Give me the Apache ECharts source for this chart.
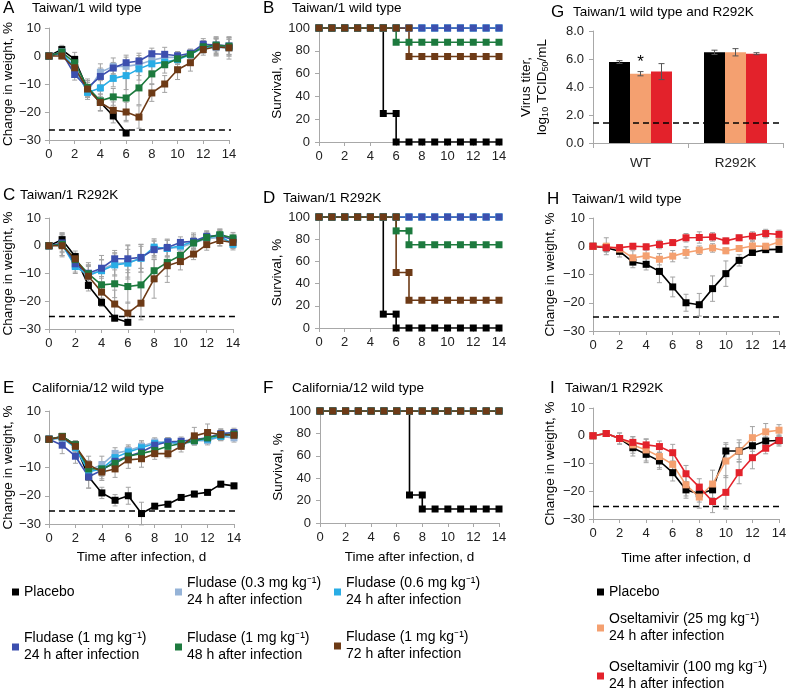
<!DOCTYPE html>
<html><head><meta charset="utf-8">
<script src="https://cdn.jsdelivr.net/npm/echarts@6/dist/echarts.min.js"></script>
<style>html,body{margin:0;padding:0;background:#fff}#c{width:790px;height:699px}</style>
</head><body><div id="c"></div><script>
// ---------------- DATA ----------------
const days = [0,1,2,3,4,5,6,7,8,9,10,11,12,13,14];

// Panel A – Taiwan/1 wild type, weight change (%)
const aPlacebo = [0, 2.3, -1.2, -11.8, -16.6, -21.4, -27.5];
const aF03  = [0, 1.5, -5.0, -12.5, -5.8, -3.7, -3.7, -3.0, -1.5, -0.5, -0.5, 0.5, 3.5, 3.0, 3.0];
const aF06  = [0, 1.0, -4.0, -13.0, -11.4, -8.0, -7.0, -4.6, -2.8, -2.2, -1.3, 0.5, 3.0, 3.5, 3.0];
const aF124 = [0, 1.2, -6.6, -11.4, -7.3, -4.3, -2.4, -1.8, 0.8, 0.6, 0.1, 1.0, 4.2, 3.9, 3.6];
const aF148 = [0, 1.4, -2.4, -11.2, -16.0, -14.6, -15.0, -11.4, -6.4, -3.1, -1.0, 0.6, 3.3, 3.9, 3.5];
const aF172 = [0, 0.0, -4.2, -11.8, -16.6, -19.4, -20.0, -21.8, -13.2, -10.0, -4.9, -2.4, 2.3, 3.3, 2.9];
const aPlaceboErr = [0, 1.5, 2.5, 3, 3, 2.5, 1];
const aF03Err  = [0, 1.5, 2, 2, 3, 3, 4, 4, 2, 2, 1.5, 1.5, 2, 3, 3];
const aF06Err  = [0, 1.5, 2, 2.5, 3, 3, 5, 4, 2.5, 2, 1.5, 1.5, 2, 3, 3];
const aF124Err = [0, 1.5, 2, 2, 3, 2, 2, 2, 2, 2.5, 1.5, 1.5, 2, 3, 3];
const aF148Err = [0, 1.5, 2, 3, 3.5, 3, 8, 6, 3.5, 3, 2, 1.5, 2, 2.5, 3];
const aF172Err = [0, 1, 2, 3, 3, 3, 3.5, 4, 3, 3, 3.5, 3, 2, 3, 4];
const aLimit = -26.4;

// Panel B – Taiwan/1 wild type, survival (%)
const bPlaceboX = [0,1,2,3,4,5,5,6,6,7,8,9,10,11,12,13,14];
const bPlaceboY = [100,100,100,100,100,100,25,25,0,0,0,0,0,0,0,0,0];
const bF148X = [0,1,2,3,4,5,6,6,7,8,9,10,11,12,13,14];
const bF148Y = [100,100,100,100,100,100,100,87.5,87.5,87.5,87.5,87.5,87.5,87.5,87.5,87.5];
const bF172X = [0,1,2,3,4,5,6,7,7,8,9,10,11,12,13,14];
const bF172Y = [100,100,100,100,100,100,100,100,75,75,75,75,75,75,75,75];
const survAll = [100,100,100,100,100,100,100,100,100,100,100,100,100,100,100];

// Panel C – Taiwan/1 R292K, weight change (%)
const cPlacebo = [0, 2.2, -3.9, -14.3, -20.4, -26.1, -27.6];
const cF03  = [0, 0.5, -7.0, -11.0, -8.5, -6.5, -6.0, -4.5, -1.0, -1.0, -0.5, 1.0, 2.5, 3.0, 1.0];
const cF06  = [0, 0.5, -7.5, -10.5, -9.0, -6.9, -6.3, -4.5, -0.5, -1.0, 0.0, 1.5, 3.0, 3.5, 0.5];
const cF124 = [0, 1.0, -6.5, -9.9, -8.1, -4.7, -4.7, -4.2, -1.4, -0.6, 1.2, 1.6, 3.4, 3.7, 2.2];
const cF148 = [0, 0.5, -5.0, -10.1, -14.1, -13.7, -14.7, -14.1, -9.0, -6.0, -3.5, 1.0, 3.0, 4.0, 2.8];
const cF172 = [0, 0.0, -4.7, -11.0, -16.7, -21.0, -24.3, -20.7, -11.9, -7.2, -5.7, -3.0, 0.4, 1.9, 1.2];
const cPlaceboErr = [0, 2.5, 2, 2, 1.5, 1, 1];
const cF03Err  = [0, 4, 3, 4, 5, 4, 6, 5, 3, 3, 2, 2, 2, 3, 2];
const cF06Err  = [0, 4, 2, 3, 4, 4, 5, 5, 3, 3, 2, 2, 2, 2, 2];
const cF124Err = [0, 3, 2, 3, 3, 3, 5, 4, 3, 3, 2, 3, 2, 2, 2];
const cF148Err = [0, 3, 2, 4, 5, 5, 6, 6, 4, 5, 3, 3, 2, 2, 2];
const cF172Err = [0, 4, 2, 4, 5, 5, 4, 6, 7, 6, 3, 2, 2, 2, 2];
const cLimit = -25.5;

// Panel D – Taiwan/1 R292K, survival (%)
const dPlaceboX = [0,1,2,3,4,5,5,6,6,7,8,9,10,11,12,13,14];
const dPlaceboY = [100,100,100,100,100,100,12.5,12.5,0,0,0,0,0,0,0,0,0];
const dF148X = [0,1,2,3,4,5,6,6,7,7,8,9,10,11,12,13,14];
const dF148Y = [100,100,100,100,100,100,100,87.5,87.5,75,75,75,75,75,75,75,75];
const dF172X = [0,1,2,3,4,5,6,6,7,7,8,9,10,11,12,13,14];
const dF172Y = [100,100,100,100,100,100,100,50,50,25,25,25,25,25,25,25,25];

// Panel E – California/12 wild type, weight change (%)
const ePlacebo = [0, 1.0, -2.0, -13.3, -19.0, -21.6, -20.0, -26.3, -23.7, -23.0, -20.6, -19.4, -18.8, -15.9, -16.5];
const eF03  = [0, 0.5, -3.0, -11.0, -9.0, -5.0, -4.0, -2.5, -1.0, -1.0, -2.0, -0.5, -0.5, 1.0, 0.5];
const eF06  = [0, 0.5, -3.0, -11.5, -10.5, -6.5, -4.5, -3.0, -1.5, -1.0, -1.5, -0.5, 0.0, 1.0, 1.5];
const eF124 = [0, -2.1, -6.0, -13.3, -11.0, -7.8, -6.0, -4.5, -2.1, -0.9, -0.7, -0.1, 0.5, 2.0, 2.4];
const eF148 = [0, 1.0, -2.0, -10.5, -10.5, -8.5, -6.0, -5.0, -4.0, -2.5, -1.5, -0.5, 0.5, 1.5, 1.8];
const eF172 = [0, 0.8, -2.5, -9.0, -11.6, -10.5, -7.3, -6.9, -5.1, -5.1, -2.5, 1.2, 2.4, 1.7, 1.4];
const ePlaceboErr = [0, 1, 1.5, 4, 2, 2, 3, 4, 1, 1, 1, 1, 1, 1, 1];
const eF03Err  = [0, 1, 1.5, 3, 3, 2, 2, 2, 1.5, 1.5, 1.5, 1.5, 1.5, 1.5, 1.5];
const eF06Err  = [0, 1, 1.5, 3, 2.5, 2, 2, 2, 1.5, 1.5, 1.5, 1.5, 1.5, 1.5, 1.5];
const eF124Err = [0, 3, 2.5, 4, 3, 2.5, 2, 2, 1.5, 1.5, 1.5, 1.5, 1.5, 1.5, 1.5];
const eF148Err = [0, 1, 1.5, 3, 2.5, 2, 2, 2, 2, 1.5, 1.5, 1.5, 1.5, 1.5, 1.5];
const eF172Err = [0, 1, 1.5, 3, 3, 3, 3, 3, 2, 1.5, 2, 3, 3, 2, 1.5];
const eLimit = -25.4;

// Panel F – California/12 wild type, survival (%)
const fPlaceboX = [0,1,2,3,4,5,6,7,7,8,8,9,10,11,12,13,14];
const fPlaceboY = [100,100,100,100,100,100,100,100,25,25,12.5,12.5,12.5,12.5,12.5,12.5,12.5];

// Panel G – virus titer (log10 TCID50/mL)
const gCats = ['WT', 'R292K'];
const gPlacebo = [5.78, 6.48];
const gO25  = [4.95, 6.48];
const gO100 = [5.10, 6.38];
const gPlaceboErr = [0.1, 0.15];
const gO25Err  = [0.15, 0.26];
const gO100Err = [0.57, 0.07];
const gLimit = 1.45;

// Panel H – Taiwan/1 wild type, oseltamivir, weight change (%)
const hPlacebo = [0, -0.5, -1.8, -5.6, -6.4, -8.9, -14.4, -20.0, -20.7, -15.0, -9.7, -5.0, -2.2, -1.2, -1.1];
const hO25  = [0, 0.0, -1.0, -4.1, -3.4, -4.6, -3.5, -2.2, -1.4, -0.6, -1.6, -0.8, 0.1, 0.0, 1.5];
const hO100 = [0, -0.5, -0.5, 0.0, -0.2, 0.6, 1.3, 3.0, 3.1, 3.3, 1.9, 3.0, 3.6, 4.5, 4.2];
const hPlaceboErr = [0, 1.5, 2, 2, 2, 4, 3.5, 3, 4, 4.5, 4.5, 2, 1, 1, 1];
const hO25Err  = [0, 3, 1.5, 2.5, 2, 2, 2, 2, 1.5, 1.5, 1, 1, 1.5, 1, 1];
const hO100Err = [0, 1.5, 1, 1, 1, 1.5, 1, 1.5, 2, 1.5, 1, 1, 1.5, 1.5, 1.5];
const hLimit = -25.0;

// Panel I – Taiwan/1 R292K, oseltamivir, weight change (%)
const iPlacebo = [0, 0.8, -1.0, -4.3, -6.7, -9.1, -13.3, -19.5, -20.9, -19.5, -5.5, -5.5, -3.6, -1.9, -1.7];
const iO25  = [0, 0.8, -1.0, -3.3, -5.1, -7.5, -10.3, -17.7, -22.1, -17.4, -9.1, -5.5, -0.7, 1.4, 2.0];
const iO100 = [0, 0.8, -1.0, -2.4, -3.3, -3.9, -6.1, -13.7, -18.5, -23.7, -20.4, -13.3, -7.9, -4.5, -1.7];
const iPlaceboErr = [0, 1, 2, 3, 3, 3, 3, 3, 3, 3, 3, 3, 2, 1.5, 1.5];
const iO25Err  = [0, 1, 2, 3, 4, 4, 4, 4, 4, 5, 6, 4, 4, 3, 2];
const iO100Err = [0, 1, 1, 2, 2, 2, 3, 3, 3, 4, 6, 4, 4, 2, 2];
const iLimit = -25.5;

// ---------------- STYLE ----------------
const FONT = '"Liberation Sans", Arial, sans-serif';
const AX = '#a8a8a8';
const N = {
  placebo: 'Placebo',
  f03: 'Fludase (0.3 mg kg\u207B\u00B9)\n24 h after infection',
  f06: 'Fludase (0.6 mg kg\u207B\u00B9)\n24 h after infection',
  f124: 'Fludase (1 mg kg\u207B\u00B9)\n24 h after infection',
  f148: 'Fludase (1 mg kg\u207B\u00B9)\n48 h after infection',
  f172: 'Fludase (1 mg kg\u207B\u00B9)\n72 h after infection',
  o25: 'Oseltamivir (25 mg kg\u207B\u00B9)\n24 h after infection',
  o100: 'Oseltamivir (100 mg kg\u207B\u00B9)\n24 h after infection'
};
const COL = {
  placebo: '#000000', f03: '#95b3d7', f06: '#29ade5', f124: '#3c4fae',
  f148: '#1d7a3e', f172: '#6d3a16', o25: '#f4a070', o100: '#e3222b'
};

const grids = [
  {left:48, top:28, width:181, height:112},   // A
  {left:319, top:28, width:180, height:114},  // B
  {left:48, top:218, width:185, height:111},  // C
  {left:319, top:217, width:180, height:111}, // D
  {left:49, top:411, width:185, height:113},  // E
  {left:320, top:411, width:179, height:112}, // F
  {left:593, top:31, width:190, height:112},  // G
  {left:593, top:218, width:186, height:113}, // H
  {left:593, top:408, width:186, height:111}  // I
];

const tickLbl = {fontSize:13, color:'#222', fontFamily:FONT};
const nameStyle = {fontSize:13.5, color:'#000', fontFamily:FONT};
const minus = v => String(v).replace('-', '\u2212');

function xVal(g, named, gap) {
  return {gridIndex:g, type:'value', min:0, max:14, interval:2,
    axisLine:{onZero:false, lineStyle:{color:AX, width:1}},
    axisTick:{show:true, length:4, lineStyle:{color:AX}},
    axisLabel:Object.assign({margin:8}, tickLbl),
    splitLine:{show:false},
    name: named ? 'Time after infection, d' : '', nameLocation:'middle', nameGap:gap || 27,
    nameTextStyle:nameStyle};
}
function yWeight(g, gap) {
  return {gridIndex:g, type:'value', min:-30, max:10, interval:10,
    axisLine:{show:true, onZero:false, lineStyle:{color:AX}},
    axisTick:{show:true, length:4, lineStyle:{color:AX}},
    axisLabel:Object.assign({margin:8, formatter:minus}, tickLbl),
    splitLine:{show:false},
    name:'Change in weight, %', nameLocation:'middle', nameGap:gap, nameTextStyle:nameStyle};
}
function ySurv(g) {
  return {gridIndex:g, type:'value', min:0, max:100, interval:20,
    axisLine:{show:true, lineStyle:{color:AX}},
    axisTick:{show:true, length:4, lineStyle:{color:AX}},
    axisLabel:Object.assign({margin:9}, tickLbl),
    splitLine:{show:false},
    name:'Survival, %', nameLocation:'middle', nameGap:33, nameTextStyle:nameStyle};
}

function errRender(params, api) {
  const x = api.value(0), lo = api.value(1), hi = api.value(2), k = api.value(3);
  if (!(hi > lo)) return {type:'group', children:[]};
  const bar = !isNaN(k);
  const off = bar ? (k - 1) * 21 : 0;
  const a = api.coord([x, hi]), b = api.coord([x, lo]);
  const w = bar ? 3 : 2.5;
  const st = {stroke: bar ? '#555' : '#a3a3a3', lineWidth: 1};
  const ax = a[0] + off;
  return {type:'group', children:[
    {type:'line', shape:{x1:ax, y1:a[1], x2:ax, y2:b[1]}, style:st},
    {type:'line', shape:{x1:ax - w, y1:a[1], x2:ax + w, y2:a[1]}, style:st},
    {type:'line', shape:{x1:ax - w, y1:b[1], x2:ax + w, y2:b[1]}, style:st}
  ]};
}

const series = [];
function weightSeries(g, key, ys, errs) {
  series.push({type:'custom', xAxisIndex:g, yAxisIndex:g, renderItem:errRender, silent:true, z:1,
    data: ys.map((v, i) => [days[i], v - errs[i], v + errs[i]])});
  series.push({type:'line', name:N[key], xAxisIndex:g, yAxisIndex:g, z:2,
    data: ys.map((v, i) => [days[i], v]),
    symbol:'rect', symbolSize:7, showSymbol:true,
    lineStyle:{color:COL[key], width:1.6}, itemStyle:{color:COL[key]}});
}
function survSeries(g, key, xs, ys) {
  series.push({type:'line', name:N[key], xAxisIndex:g, yAxisIndex:g, z:2,
    data: ys.map((v, i) => [xs[i], v]),
    symbol:'rect', symbolSize:7,
    lineStyle:{color:COL[key], width:1.6}, itemStyle:{color:COL[key]}});
}
function limitLine(g, v, xEnd) {
  series.push({type:'line', xAxisIndex:g, yAxisIndex:g, silent:true, clip:false, z:0,
    data:[[0, v], [xEnd, v]], symbol:'none',
    lineStyle:{color:'#000', width:1.5, type:[6, 4]}});
}

// A
limitLine(0, aLimit, 14.6);
weightSeries(0, 'placebo', aPlacebo, aPlaceboErr);
weightSeries(0, 'f03', aF03, aF03Err);
weightSeries(0, 'f06', aF06, aF06Err);
weightSeries(0, 'f124', aF124, aF124Err);
weightSeries(0, 'f148', aF148, aF148Err);
weightSeries(0, 'f172', aF172, aF172Err);
// B
survSeries(1, 'placebo', bPlaceboX, bPlaceboY);
survSeries(1, 'f03', days, survAll);
survSeries(1, 'f06', days, survAll);
survSeries(1, 'f124', days, survAll);
survSeries(1, 'f148', bF148X, bF148Y);
survSeries(1, 'f172', bF172X, bF172Y);
// C
limitLine(2, cLimit, 14.5);
weightSeries(2, 'placebo', cPlacebo, cPlaceboErr);
weightSeries(2, 'f03', cF03, cF03Err);
weightSeries(2, 'f06', cF06, cF06Err);
weightSeries(2, 'f124', cF124, cF124Err);
weightSeries(2, 'f148', cF148, cF148Err);
weightSeries(2, 'f172', cF172, cF172Err);
// D
survSeries(3, 'placebo', dPlaceboX, dPlaceboY);
survSeries(3, 'f03', days, survAll);
survSeries(3, 'f06', days, survAll);
survSeries(3, 'f124', days, survAll);
survSeries(3, 'f148', dF148X, dF148Y);
survSeries(3, 'f172', dF172X, dF172Y);
// E
limitLine(4, eLimit, 14.5);
weightSeries(4, 'placebo', ePlacebo, ePlaceboErr);
weightSeries(4, 'f03', eF03, eF03Err);
weightSeries(4, 'f06', eF06, eF06Err);
weightSeries(4, 'f124', eF124, eF124Err);
weightSeries(4, 'f148', eF148, eF148Err);
weightSeries(4, 'f172', eF172, eF172Err);
// F
survSeries(5, 'placebo', fPlaceboX, fPlaceboY);
survSeries(5, 'f03', days, survAll);
survSeries(5, 'f06', days, survAll);
survSeries(5, 'f124', days, survAll);
survSeries(5, 'f148', days, survAll);
survSeries(5, 'f172', days, survAll);
// G
series.push({type:'bar', name:N.placebo, xAxisIndex:6, yAxisIndex:6, barWidth:21, barGap:'0%', z:2,
  data:gPlacebo.slice(), itemStyle:{color:COL.placebo},
  markLine:{silent:true, symbol:'none', label:{show:false},
    lineStyle:{color:'#000', width:1.5, type:[6, 4]}, data:[{yAxis:gLimit}]}});
const o25Data = gO25.map((v, i) => i === 0 ? {value:v, label:{show:true, position:'top', distance:3,
  formatter:'*', fontSize:17, color:'#000', fontFamily:FONT}} : v);
series.push({type:'bar', name:N.o25, xAxisIndex:6, yAxisIndex:6, barWidth:21, barGap:'0%', z:2,
  data:o25Data, itemStyle:{color:COL.o25}});
series.push({type:'bar', name:N.o100, xAxisIndex:6, yAxisIndex:6, barWidth:21, barGap:'0%', z:2,
  data:gO100.slice(), itemStyle:{color:COL.o100}});
[[gPlaceboErr, gPlacebo, 0], [gO25Err, gO25, 1], [gO100Err, gO100, 2]].forEach(([e, v, k]) => {
  series.push({type:'custom', xAxisIndex:6, yAxisIndex:6, renderItem:errRender, silent:true, z:3,
    data: v.map((val, i) => [i, val - e[i], val + e[i], k])});
});
// H
limitLine(7, hLimit, 14.3);
weightSeries(7, 'placebo', hPlacebo, hPlaceboErr);
weightSeries(7, 'o25', hO25, hO25Err);
weightSeries(7, 'o100', hO100, hO100Err);
// I
limitLine(8, iLimit, 14.3);
weightSeries(8, 'placebo', iPlacebo, iPlaceboErr);
weightSeries(8, 'o25', iO25, iO25Err);
weightSeries(8, 'o100', iO100, iO100Err);

const xAxes = [
  xVal(0), xVal(1), xVal(2), xVal(3), xVal(4, true, 26), xVal(5, true, 27),
  {gridIndex:6, type:'category', data:gCats,
    axisLine:{lineStyle:{color:AX}}, axisTick:{show:true, length:5, lineStyle:{color:AX}},
    axisLabel:Object.assign({margin:13}, tickLbl, {fontSize:13.5})},
  xVal(7), xVal(8, true, 32)
];
const yAxes = [
  yWeight(0, 32), ySurv(1), yWeight(2, 32), ySurv(3), yWeight(4, 33), ySurv(5),
  {gridIndex:6, type:'value', min:0, max:8, interval:2,
    axisLine:{show:true, lineStyle:{color:AX}},
    axisTick:{show:true, length:4, lineStyle:{color:AX}},
    axisLabel:Object.assign({margin:9, formatter: v => v.toFixed(1)}, tickLbl),
    splitLine:{show:false},
    name:'Virus titer,\nlog{s|10} TCID{s|50}/mL', nameLocation:'middle', nameGap:43,
    nameTextStyle:Object.assign({lineHeight:16, rich:{s:{fontSize:9, verticalAlign:'bottom', fontFamily:FONT, color:'#000'}}}, nameStyle)},
  yWeight(7, 36), yWeight(8, 36)
];

function ttl(text, left, top, size) {
  return {text, left, top, padding:0, textStyle:{fontSize:size, fontWeight:'normal', color:'#000', fontFamily:FONT}};
}
const titles = [
  ttl('A', 3, 0, 17), ttl('Taiwan/1 wild type', 32, 1, 13.5),
  ttl('B', 263, 0, 17), ttl('Taiwan/1 wild type', 292, 1, 13.5),
  ttl('C', 3, 187, 17), ttl('Taiwan/1 R292K', 20, 188, 13.5),
  ttl('D', 263, 190, 17), ttl('Taiwan/1 R292K', 283, 191, 13.5),
  ttl('E', 3, 380, 17), ttl('California/12 wild type', 32, 381, 13.5),
  ttl('F', 263, 380, 17), ttl('California/12 wild type', 292, 381, 13.5),
  ttl('G', 551, 4, 17), ttl('Taiwan/1 wild type and R292K', 573, 5, 13.5),
  ttl('H', 547, 191, 17), ttl('Taiwan/1 wild type', 572, 192, 13.5),
  ttl('I', 550, 380, 17), ttl('Taiwan/1 R292K', 565, 381, 13.5)
];

function leg(key, left, y, twoLine) {
  return {data:[N[key]], left, top: twoLine ? y - 25.5 : y - 8.5, icon:'rect',
    itemWidth:7, itemHeight:7, padding:0, itemGap:0, selectedMode:false,
    textStyle:{fontSize:14, lineHeight:17, color:'#000', fontFamily:FONT,
      padding: twoLine ? [17, 0, 0, 0] : 0}};
}
const legends = [
  leg('placebo', 12, 592, false), leg('f03', 175, 592, true), leg('f06', 334, 592, true),
  leg('f124', 12, 647, true), leg('f148', 175, 647, true), leg('f172', 334, 646, true),
  leg('placebo', 597, 592, false), leg('o25', 597, 628, true), leg('o100', 597, 676, true)
];

const chart = echarts.init(document.getElementById('c'), null, {renderer:'canvas'});
chart.setOption({
  animation:false,
  backgroundColor:'#fff',
  textStyle:{fontFamily:FONT},
  title:titles,
  legend:legends,
  grid:grids,
  xAxis:xAxes,
  yAxis:yAxes,
  series:series
});
</script></body></html>
